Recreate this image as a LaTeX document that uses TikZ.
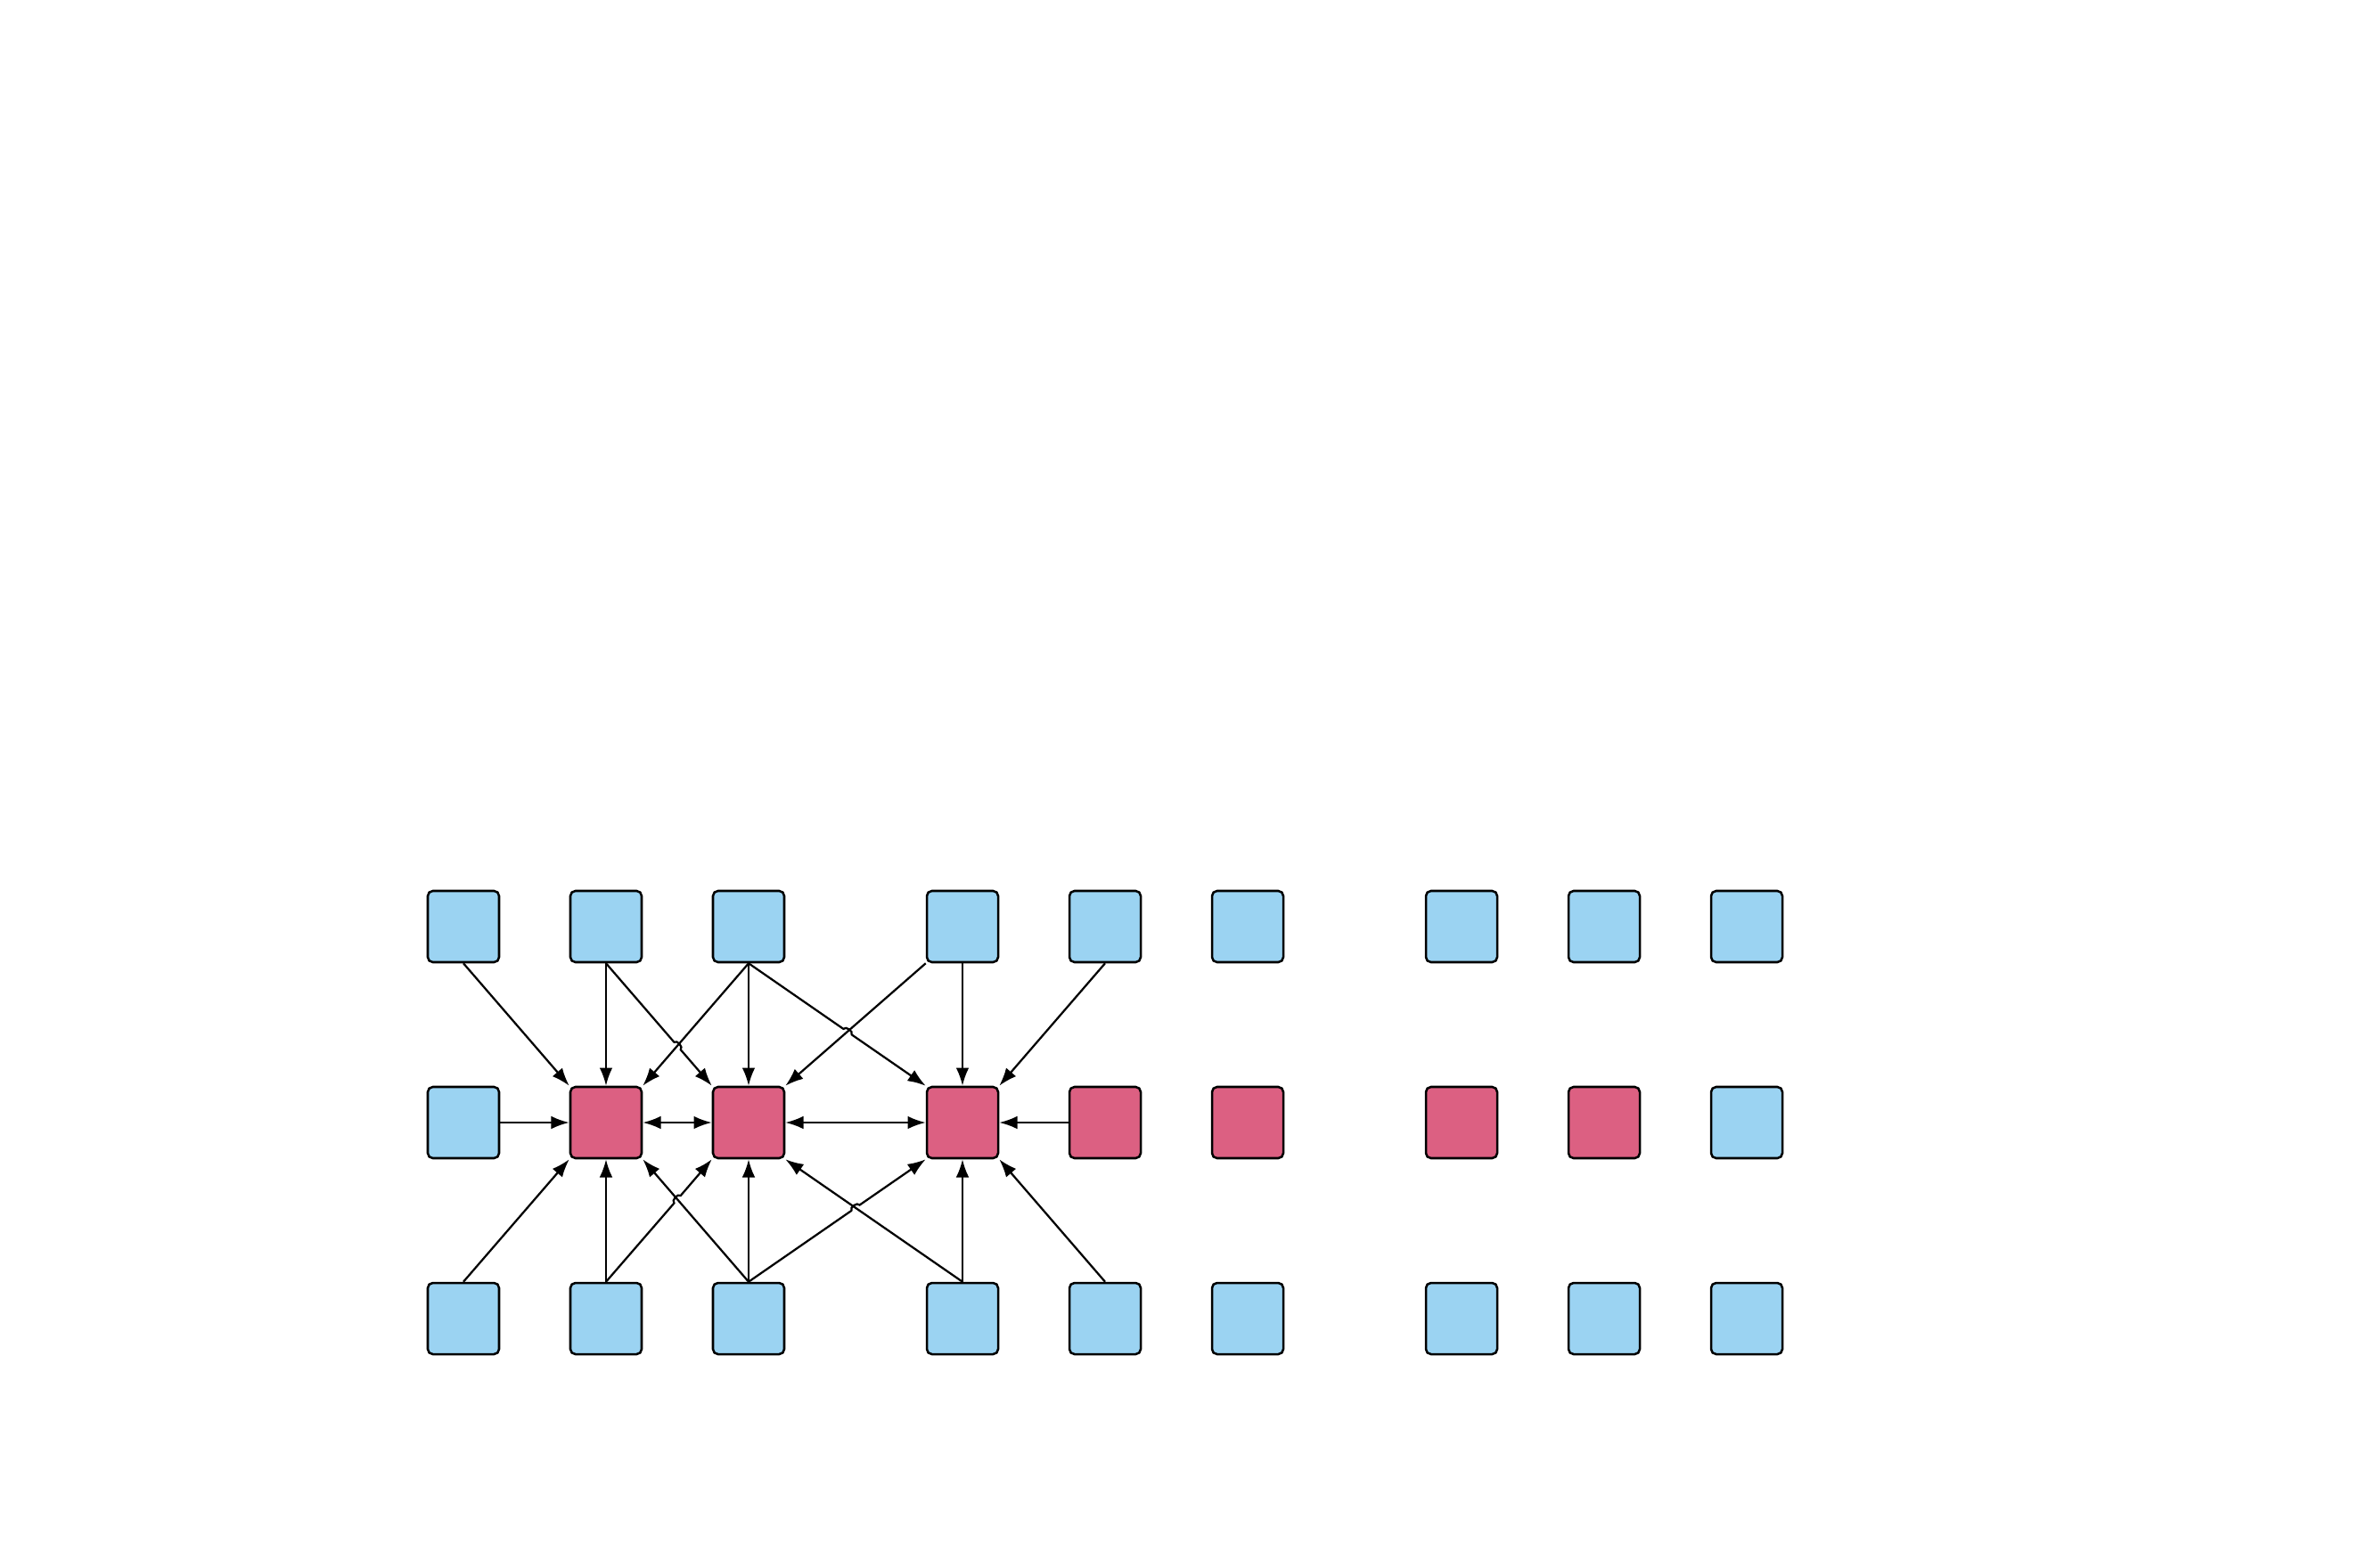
\documentclass[tikz,border=0pt]{standalone}
\usetikzlibrary{positioning,arrows.meta,calc}

\definecolor{cellblue}{HTML}{9BD3F2}
\definecolor{cellred}{HTML}{DC6082}
\tikzset{
  cell/.style={draw,line width=0.45pt,rounded corners=1pt,minimum size=0.5cm,inner sep=0pt},
  free/.style={cell,fill=cellblue},
  hit/.style={cell,fill=cellred},
}

\begin{document}
\begin{tikzpicture}[node distance=1cm,on grid,>={Latex[length=3.6pt,width=2.6pt]},line width=0.4pt]
      \useasboundingbox (0,0) rectangle (16.6,-11);
      % top row
      \node[free] (t1) at (3.25,-6.5) {};
      \node[free] (t2) [right=of t1]       {};
      \node[free] (t3) [right=of t2]       {};
      \node[free] (t4) [right=1.5cm of t3] {};
      \node[free] (t5) [right=of t4]       {};
      \node[free] (t6) [right=of t5]       {};
      \node[free] (t7) [right=1.5cm of t6] {};
      \node[free] (t8) [right=of t7]       {};
      \node[free] (t9) [right=of t8]       {};
      % middle row
      \node[free] (m1) [below=1.375cm of t1] {};
      \node[hit]  (m2) [right=of m1]       {};
      \node[hit]  (m3) [right=of m2]       {};
      \node[hit]  (m4) [right=1.5cm of m3] {};
      \node[hit]  (m5) [right=of m4]       {};
      \node[hit]  (m6) [right=of m5]       {};
      \node[hit]  (m7) [right=1.5cm of m6] {};
      \node[hit]  (m8) [right=of m7]       {};
      \node[free] (m9) [right=of m8]       {};
      % bottom row
      \node[free] (b1) [below=1.375cm of m1] {};
      \node[free] (b2) [right=of b1]       {};
      \node[free] (b3) [right=of b2]       {};
      \node[free] (b4) [right=1.5cm of b3] {};
      \node[free] (b5) [right=of b4]       {};
      \node[free] (b6) [right=of b5]       {};
      \node[free] (b7) [right=1.5cm of b6] {};
      \node[free] (b8) [right=of b7]       {};
      \node[free] (b9) [right=of b8]       {};

      \path[->] (t1.south) edge (m2.north west)
                (t2.south) edge (m2.north)
                (t3.south) edge (m2.north east)
                (t3.south) edge (m3.north)
                (t4.south west) edge (m3.north east)
                (t4.south) edge (m4.north)
                (t5.south) edge (m4.north east)
                (m1.east) edge (m2.west)
                (m5.west) edge (m4.east)
                (b1.north) edge (m2.south west)
                (b2.north) edge (m2.south)
                (b3.north) edge (m2.south east)
                (b3.north) edge (m3.south)
                (b4.north) edge (m3.south east)
                (b4.north) edge (m4.south)
                (b5.north) edge (m4.south east);
      \path[<->] (m2.east) edge (m3.west)
                 (m3.east) edge (m4.west);

      % line jumps
      \coordinate (j1) at (intersection of t2.south--m3.north west and t3.south--m2.north east);
      \coordinate (j2) at (intersection of t3.south--m4.north west and t4.south west--m3.north east);
      \coordinate (j3) at (intersection of b2.north--m3.south west and b3.north--m2.south east);
      \coordinate (j4) at (intersection of b3.north--m4.south west and b4.north--m3.south east);
      \draw[->] (t2.south) -- ($(j1)!1pt!(t2.south)$) to[bend left=90] ($(j1)!1pt!(m3.north west)$) -- (m3.north west);
      \draw[->] (t3.south) -- ($(j2)!1pt!(t3.south)$) to[bend left=90] ($(j2)!1pt!(m4.north west)$) -- (m4.north west);
      \draw[->] (b2.north) -- ($(j3)!1pt!(b2.north)$) to[bend left=90] ($(j3)!1pt!(m3.south west)$) -- (m3.south west);
      \draw[->] (b3.north) -- ($(j4)!1pt!(b3.north)$) to[bend left=90] ($(j4)!1pt!(m4.south west)$) -- (m4.south west);
    \end{tikzpicture}
\end{document}
